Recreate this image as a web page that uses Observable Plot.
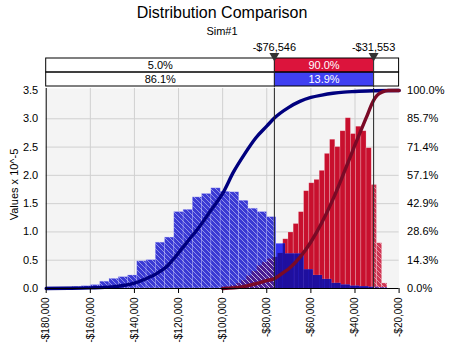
<!DOCTYPE html>
<html><head><meta charset="utf-8">
<script src="https://cdn.jsdelivr.net/npm/d3@7"></script>
<script src="https://cdn.jsdelivr.net/npm/@observablehq/plot@0.6"></script>
<style>
body{margin:0;background:#fff;font-family:"Liberation Sans",Arial,sans-serif;}
#wrap{position:relative;width:455px;height:353px;overflow:hidden;background:#fff;}
#title{position:absolute;left:0;width:444px;top:3px;text-align:center;font-size:16px;line-height:20px;color:#000;}
#sub{position:absolute;left:0;width:444px;top:25px;text-align:center;font-size:11px;line-height:12px;color:#000;}
#band{position:absolute;left:0;top:38px;}
#main{position:absolute;left:0;top:88px;}
</style></head>
<body><div id="wrap"><div id="title">Distribution Comparison</div><div id="sub">Sim#1</div><div id="band"></div><div id="main"></div></div>
<script>
// ---- data ----
const leftDelim = -76546, rightDelim = -31553;
const delimLabels = ["-$76,546", "-$31,553"];
const redPct = [5.0, 90.0, 5.0];
const bluePct = [86.1, 13.9, 0.0];

const blueBinWidth = 4200;
const blueEdges = [-180700,-176500,-172300,-168100,-163900,-159700,-155500,-151300,-147100,-142900,-138700,-134500,-130300,-126100,-121900,-117700,-113500,-109300,-105100,-100900,-96700,-92500,-88300,-84100,-79900,-75700,-71500,-67300,-63100,-58900,-54700,-50500,-46300,-42100,-37900,-33700,-29500];
const blueDensity = [0.02,0.02,0.02,0.03,0.04,0.06,0.12,0.17,0.20,0.23,0.48,0.50,0.81,0.90,1.35,1.39,1.61,1.67,1.77,1.71,1.70,1.55,1.41,1.35,1.26,0.79,0.61,0.61,0.33,0.23,0.16,0.09,0.06,0.04,0.03,0.02,0.01];

const redBinWidth = 2360;
const redEdges = [-98470,-96110,-93750,-91400,-89040,-86680,-84320,-81960,-79600,-77240,-74880,-72520,-70160,-67800,-65440,-63080,-60720,-58360,-56000,-53640,-51280,-48920,-46560,-44200,-41840,-39480,-37120,-34760,-32400,-30040,-27680];
const redDensity = [0.02,0.05,0.09,0.14,0.22,0.30,0.40,0.46,0.52,0.55,0.62,0.87,0.99,1.14,1.35,1.72,1.86,1.92,2.08,2.38,2.63,2.50,2.78,3.01,2.73,2.86,2.78,2.48,1.83,0.80,0.09];

const blueCdfX = [-180000,-170000,-160000,-150000,-145000,-140000,-135000,-130000,-125000,-120000,-115000,-110000,-105000,-100000,-95000,-90000,-85000,-80000,-76546,-70000,-65000,-60000,-55000,-50000,-45000,-40000,-31553,-20000];
const blueCdfP = [0,0.001,0.003,0.008,0.015,0.027,0.048,0.075,0.115,0.18,0.25,0.32,0.40,0.48,0.59,0.68,0.76,0.82,0.861,0.915,0.945,0.965,0.977,0.986,0.992,0.995,0.999,1.0];
const redCdfX = [-100000,-95000,-90000,-85000,-80000,-76546,-72500,-70000,-65000,-60000,-55000,-50000,-45000,-40000,-35000,-31553,-30000,-27500,-25000,-20000];
const redCdfP = [0,0.003,0.011,0.024,0.040,0.050,0.080,0.100,0.157,0.235,0.333,0.450,0.585,0.725,0.860,0.950,0.975,0.993,1.0,1.0];

const xTicks = [-180000,-160000,-140000,-120000,-100000,-80000,-60000,-40000,-20000];
const yTicks = [0,0.5,1.0,1.5,2.0,2.5,3.0,3.5];
const rightLabels = ["0.0%","14.3%","28.6%","42.9%","57.1%","71.4%","85.7%","100.0%"];
const xDomain = [-180000, -20000];
const yMax = 3.5;

// ---- derived tables ----
function segs(edges, dens, w) {
  const out = [];
  edges.forEach((x1, i) => {
    const x2 = x1 + w;
    const cuts = [x1, ...[leftDelim, rightDelim].filter(c => c > x1 && c < x2), x2];
    for (let k = 0; k < cuts.length - 1; k++) {
      const a = cuts[k], b = cuts[k + 1], m = (a + b) / 2;
      out.push({x1: a, x2: b, h: dens[i], inside: m > leftDelim && m < rightDelim});
    }
  });
  return out;
}
const blueSegs = segs(blueEdges, blueDensity, blueBinWidth);
const redSegs = segs(redEdges, redDensity, redBinWidth);
const overlap = [];
for (const b of blueSegs) for (const r of redSegs) {
  const a = Math.max(b.x1, r.x1), c = Math.min(b.x2, r.x2);
  if (c > a) overlap.push({x1: a, x2: c, h: Math.min(b.h, r.h), inside: b.inside && r.inside});
}
const blueCdf = blueCdfX.map((x, i) => ({x, p: blueCdfP[i]}));
const redCdf = redCdfX.map((x, i) => ({x, p: redCdfP[i]}));

const bounds = [xDomain[0], leftDelim, rightDelim, xDomain[1]];
const band = [];
[["a", redPct], ["b", bluePct]].forEach(([row, pcts]) => {
  pcts.forEach((p, i) => band.push({row, x1: bounds[i], x2: bounds[i + 1], label: p.toFixed(1) + "%", inside: i === 1}));
});

const ML = 45.7, MR = 56.4;
const font = {fontFamily: "'Liberation Sans', Arial, sans-serif", fontSize: "11px", background: "transparent", color: "#000", overflow: "visible"};

// ---- band plot ----
const bandPlot = Plot.plot({
  width: 455, height: 50, marginLeft: ML, marginRight: MR, marginTop: 19.3, marginBottom: 0.7,
  style: font,
  x: {domain: xDomain, axis: null},
  y: {domain: ["a", "b"], axis: null, padding: 0},
  marks: [
    Plot.barX(band.filter(d => !d.inside), {x1: "x1", x2: "x2", y: "row", fill: "white"}),
    Plot.barX(band.filter(d => d.inside && d.row === "a"), {x1: "x1", x2: "x2", y: "row", fill: "#dc143c"}),
    Plot.barX(band.filter(d => d.inside && d.row === "b"), {x1: "x1", x2: "x2", y: "row", fill: "#4040f2"}),
    Plot.barX(["a", "b"], {x1: xDomain[0], x2: xDomain[1], y: d => d, fill: "none", stroke: "#000", strokeWidth: 1}),
    Plot.ruleX([leftDelim, rightDelim], {stroke: "#222", strokeWidth: 1}),
    Plot.text(band.filter(d => d.x2 - d.x1 > 15000), {x: d => (d.x1 + d.x2) / 2, y: "row", text: "label", fill: d => d.inside ? "white" : "black", fontSize: 11}),
    Plot.dot([leftDelim, rightDelim], {x: d => d, frameAnchor: "top", symbol: "triangle", rotate: 180, r: 3.7, fill: "#333", stroke: "none", dy: -2}),
    Plot.text([leftDelim, rightDelim], {x: d => d, text: (d, i) => delimLabels[i], frameAnchor: "top", dy: -15, fontSize: 11, fill: "#000"})
  ]
});
document.getElementById("band").appendChild(bandPlot);

// ---- main plot ----
const fmtX = d => (d < 0 ? "-$" : "$") + d3.format(",")(Math.abs(d));
const bar = (data, fill, extra = {}) => Plot.rectY(data, {x1: "x1", x2: "x2", y1: 0, y2: "h", fill, clip: true, ...extra});
const mainPlot = Plot.plot({
  width: 455, height: 265, marginLeft: ML, marginRight: MR, marginTop: 2, marginBottom: 65,
  style: font,
  x: {domain: xDomain},
  y: {domain: [0, yMax]},
  marks: [
    Plot.frame({fill: "#f4f4f4", stroke: "none", insetTop: -2}),
    Plot.ruleX(xTicks.slice(1, -1), {stroke: "#d0d0d0", insetTop: -2}),
    Plot.ruleY(yTicks.slice(1, -1), {stroke: "#d0d0d0"}),
    bar(redSegs.filter(d => d.inside), "#c8102e", {stroke: "#fff", strokeOpacity: 0.3, strokeWidth: 0.7}),
    bar(redSegs.filter(d => !d.inside), "#d03553", {stroke: "#fff", strokeOpacity: 0.3, strokeWidth: 0.7}),
    bar(blueSegs.filter(d => d.inside), "#3232f2", {stroke: "#fff", strokeOpacity: 0.25, strokeWidth: 0.6}),
    bar(blueSegs.filter(d => !d.inside), "#3a3ad4", {stroke: "#b8b8ff", strokeOpacity: 0.5, strokeWidth: 0.6}),
    bar(overlap.filter(d => d.inside), "#1f0f9e"),
    bar(overlap.filter(d => !d.inside), "#4a1c92"),
    bar(blueSegs.filter(d => !d.inside), "url(#hatch)"),
    bar(redSegs.filter(d => !d.inside), "url(#hatch)"),
    Plot.line(blueCdf, {x: "x", y: d => d.p * yMax, stroke: "#00007e", strokeWidth: 3.4, curve: "monotone-x"}),
    Plot.line(redCdf, {x: "x", y: d => d.p * yMax, stroke: "#7a0a26", strokeWidth: 3.4, curve: "monotone-x"}),
    Plot.ruleX([leftDelim, rightDelim], {stroke: "#222", strokeWidth: 1, insetTop: -2}),
    Plot.ruleX([xDomain[0]], {stroke: "#000", strokeWidth: 1, insetTop: -2}),
    Plot.ruleY([0], {stroke: "#000", strokeWidth: 1}),
    Plot.axisX({ticks: xTicks, tickFormat: fmtX, tickRotate: -90, tickSize: 5, tickPadding: 4, fontSize: 10, label: null}),
    Plot.axisY({ticks: yTicks, tickFormat: d => d.toFixed(1), tickSize: 0, tickPadding: 8, fontSize: 11, label: null}),
    Plot.axisY({anchor: "right", ticks: yTicks, tickFormat: (d, i) => rightLabels[i], tickSize: 0, tickPadding: 8, fontSize: 11, label: null}),
    Plot.text(["Values x 10^-5"], {frameAnchor: "left", textAnchor: "middle", dx: -32, dy: -5, rotate: -90, fontSize: 11, fill: "#000"})
  ]
});
const ns = "http://www.w3.org/2000/svg";
const defs = document.createElementNS(ns, "defs");
defs.innerHTML = '<pattern id="hatch" patternUnits="userSpaceOnUse" width="5" height="5"><path d="M-1,-1L6,6M-1,4L1,6M4,-1L6,1" stroke="#ffffff" stroke-opacity="0.5" stroke-width="0.9" fill="none"/></pattern>';
mainPlot.insertBefore(defs, mainPlot.firstChild);
document.getElementById("main").appendChild(mainPlot);
</script></body></html>
